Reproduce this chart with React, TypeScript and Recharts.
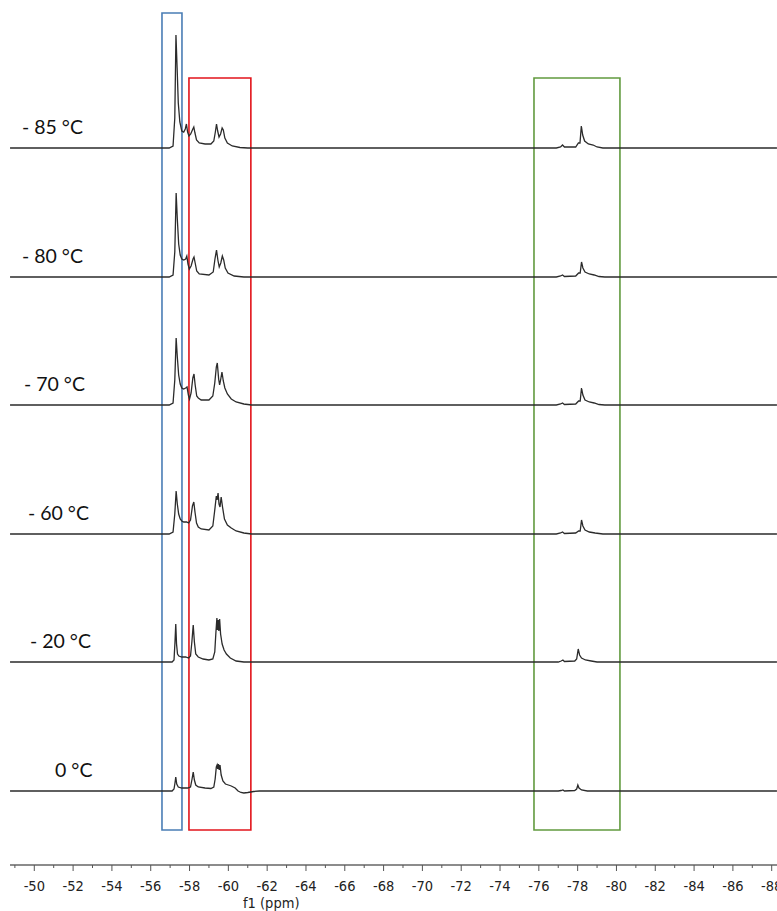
import { LineChart, Line, XAxis, YAxis, ReferenceArea } from "recharts";

// chemical shift (ppm) / intensity pairs
const SPEC_M85: [number, number][] = [
  [-48.75, 0], [-56.95, 0], [-57.15, 2], [-57.24, 30], [-57.3, 113], [-57.36, 80], [-57.42, 45],
  [-57.5, 26], [-57.6, 17], [-57.7, 16], [-57.78, 19], [-57.84, 24], [-57.9, 16], [-57.97, 12],
  [-58.06, 14], [-58.17, 19], [-58.22, 21], [-58.28, 15], [-58.36, 8], [-58.5, 5], [-58.8, 4],
  [-59.1, 4], [-59.25, 7], [-59.33, 16], [-59.39, 24], [-59.45, 17], [-59.52, 11], [-59.6, 14],
  [-59.68, 20], [-59.74, 18], [-59.82, 10], [-59.95, 5], [-60.2, 2], [-60.6, 0.5], [-61.0, 0],
  [-76.9, 0], [-77.12, 1], [-77.22, 3], [-77.32, 1], [-77.9, 1], [-78.04, 5], [-78.12, 5],
  [-78.19, 22], [-78.26, 13], [-78.36, 7], [-78.55, 4], [-78.8, 3], [-79.0, 1], [-79.3, 0],
  [-88.27, 0],
];

const SPEC_M80: [number, number][] = [
  [-48.75, 0], [-56.95, 0], [-57.15, 2], [-57.24, 25], [-57.31, 84], [-57.37, 58], [-57.44, 33],
  [-57.52, 22], [-57.6, 18], [-57.7, 17], [-57.8, 18], [-57.86, 21], [-57.92, 13], [-57.99, 8],
  [-58.08, 11], [-58.18, 18], [-58.23, 20], [-58.29, 14], [-58.37, 6], [-58.5, 3], [-59.0, 2],
  [-59.22, 5], [-59.31, 18], [-59.39, 27], [-59.46, 17], [-59.53, 10], [-59.61, 14], [-59.69, 21],
  [-59.76, 17], [-59.84, 9], [-59.98, 4], [-60.3, 1], [-60.8, 0],
  [-76.9, 0], [-77.12, 1], [-77.22, 2], [-77.32, 0.5], [-77.9, 1], [-78.05, 4], [-78.13, 4],
  [-78.2, 15], [-78.27, 9], [-78.38, 5], [-78.6, 3], [-78.85, 2], [-79.1, 0.5], [-79.4, 0],
  [-88.27, 0],
];

const SPEC_M70: [number, number][] = [
  [-48.75, 0], [-56.95, 0], [-57.15, 2], [-57.24, 25], [-57.31, 67], [-57.37, 48], [-57.44, 30],
  [-57.52, 21], [-57.6, 17], [-57.7, 16], [-57.8, 17], [-57.87, 18], [-57.94, 10], [-58.0, 6],
  [-58.08, 12], [-58.17, 27], [-58.23, 31], [-58.29, 20], [-58.37, 9], [-58.45, 7], [-58.6, 5],
  [-59.0, 5], [-59.2, 9], [-59.3, 22], [-59.38, 38], [-59.43, 42], [-59.5, 26], [-59.55, 20],
  [-59.61, 26], [-59.67, 33], [-59.74, 24], [-59.82, 17], [-59.95, 11], [-60.15, 6], [-60.4, 3],
  [-60.8, 1], [-61.2, 0],
  [-76.9, 0], [-77.12, 1], [-77.22, 2], [-77.32, 0.5], [-77.9, 1], [-78.05, 4], [-78.13, 4],
  [-78.2, 17], [-78.27, 10], [-78.38, 5], [-78.6, 3], [-78.85, 2], [-79.1, 0.5], [-79.4, 0],
  [-88.27, 0],
];

const SPEC_M60: [number, number][] = [
  [-48.75, 0], [-56.95, 0], [-57.15, 2], [-57.24, 20], [-57.31, 43], [-57.37, 30], [-57.44, 20],
  [-57.52, 15], [-57.6, 13], [-57.7, 12], [-57.85, 12], [-57.95, 11], [-58.05, 14], [-58.15, 28],
  [-58.22, 32], [-58.28, 22], [-58.36, 11], [-58.45, 7], [-58.6, 5], [-59.0, 4], [-59.2, 8],
  [-59.3, 24], [-59.38, 38], [-59.42, 34], [-59.47, 41], [-59.52, 30], [-59.57, 27], [-59.63, 37],
  [-59.7, 27], [-59.8, 15], [-59.95, 9], [-60.15, 6], [-60.4, 3], [-60.8, 1], [-61.2, 0],
  [-76.9, 0], [-77.12, 1], [-77.22, 2], [-77.32, 0.5], [-77.9, 1], [-78.05, 3], [-78.13, 3],
  [-78.2, 14], [-78.27, 8], [-78.38, 4], [-78.6, 2], [-78.9, 1], [-79.3, 0],
  [-88.27, 0],
];

const SPEC_M20: [number, number][] = [
  [-48.75, 0], [-57.1, 0], [-57.2, 2], [-57.25, 20], [-57.29, 38], [-57.33, 18], [-57.38, 8],
  [-57.45, 6], [-57.6, 5], [-57.8, 5], [-57.95, 4], [-58.05, 6], [-58.12, 20], [-58.19, 37],
  [-58.25, 20], [-58.32, 8], [-58.45, 5], [-58.7, 3], [-59.0, 2], [-59.2, 3], [-59.3, 10],
  [-59.36, 30], [-59.41, 44], [-59.44, 32], [-59.48, 42], [-59.51, 31], [-59.55, 43], [-59.6, 28],
  [-59.68, 18], [-59.78, 12], [-59.9, 8], [-60.1, 4], [-60.4, 1], [-60.8, 0],
  [-77.0, 0], [-77.15, 1], [-77.24, 2], [-77.32, 0.5], [-77.85, 1], [-77.95, 3], [-78.03, 13],
  [-78.1, 7], [-78.2, 4], [-78.4, 2], [-78.7, 1], [-79.0, 0],
  [-88.27, 0],
];

const SPEC_0: [number, number][] = [
  [-48.75, 0], [-57.1, 0], [-57.2, 2], [-57.25, 8], [-57.29, 14], [-57.34, 7], [-57.42, 4],
  [-57.6, 3], [-57.9, 3], [-58.05, 4], [-58.13, 12], [-58.19, 19], [-58.25, 11], [-58.32, 6],
  [-58.45, 4], [-58.8, 3], [-59.1, 2.5], [-59.25, 4], [-59.32, 12], [-59.38, 24], [-59.42, 26],
  [-59.45, 22], [-59.49, 27], [-59.53, 21], [-59.57, 26], [-59.63, 16], [-59.72, 10], [-59.85, 7],
  [-60.0, 6], [-60.15, 5], [-60.35, 3], [-60.5, 0], [-60.65, -1.5], [-60.8, -2], [-61.0, -1.5],
  [-61.3, -0.5], [-61.6, 0],
  [-77.0, 0], [-77.15, 0.5], [-77.24, 1], [-77.32, 0], [-77.85, 0.5], [-77.95, 2], [-78.01, 6],
  [-78.07, 3], [-78.2, 1], [-78.5, 0],
  [-88.27, 0],
];

const SPECTRA = [SPEC_M85, SPEC_M80, SPEC_M70, SPEC_M60, SPEC_M20, SPEC_0];
const TEMPS = ["- 85 °C", "- 80 °C", "- 70 °C", "- 60 °C", "- 20 °C", "0 °C"];

// x-axis ticks: every ppm, labelled every 2
const TICKS: number[] = [];
for (let t = -49; t >= -88; t--) TICKS.push(t);

// highlighted regions [from, to] in ppm
const REGIONS = [
  { from: -56.58, to: -57.61, color: "#4a7db5" },
  { from: -57.97, to: -61.16, color: "#e2151b" },
  { from: -75.75, to: -80.18, color: "#629a3f" },
];

// layout (pixels)
const W = 777;
const H = 911;
const PLOT_H = 865;
const BASELINES = [148, 277, 405, 534, 662, 791];
const REGION_TOP = [13, 78, 78];
const REGION_BOTTOM = 830;
const LABEL_LEFT = [22, 22, 24, 28, 30, 55];

const AXIS_FONT = "'DejaVu Sans Condensed', 'Liberation Sans Narrow', 'DejaVu Sans', sans-serif";

function PpmTick(props: any) {
  const { x, y, payload } = props;
  const v = payload.value;
  const major = v % 2 === 0;
  return (
    <g>
      <line x1={x} x2={x} y1={y} y2={y + (major ? 6 : 3)} stroke="#555" strokeWidth={1} />
      {major && (
        <text x={x} y={y + 26} textAnchor="middle" fontSize={14.5} fill="#222" fontFamily={AXIS_FONT}>
          {v}
        </text>
      )}
    </g>
  );
}

export default function App() {
  return (
    <div style={{ position: "absolute", left: 0, top: 0, width: W, height: H, background: "#fff" }}>
      <LineChart width={W} height={H} margin={{ top: 0, right: 0, bottom: 0, left: 10 }}>
        <XAxis
          dataKey="ppm"
          type="number"
          domain={[-88.273, -48.748]}
          reversed
          allowDataOverflow
          ticks={TICKS}
          interval={0}
          tick={<PpmTick />}
          tickLine={false}
          tickSize={0}
          tickMargin={0}
          height={H - PLOT_H}
          axisLine={{ stroke: "#666", strokeWidth: 1.5 }}
        />
        {/* frame axis: value = pixels above the x-axis line */}
        <YAxis yAxisId="frame" hide domain={[0, PLOT_H]} type="number" allowDataOverflow />
        {BASELINES.map((b, i) => (
          <YAxis key={i} yAxisId={`s${i}`} hide type="number" domain={[b - PLOT_H, b]} allowDataOverflow />
        ))}
        {SPECTRA.map((spec, i) => (
          <Line
            key={i}
            yAxisId={`s${i}`}
            data={spec.map(([ppm, v]) => ({ ppm, v }))}
            dataKey="v"
            type="linear"
            stroke="#2b2b2b"
            strokeWidth={1.3}
            dot={false}
            isAnimationActive={false}
          />
        ))}
        {REGIONS.map((r, i) => (
          <ReferenceArea
            key={i}
            yAxisId="frame"
            x1={r.from}
            x2={r.to}
            y1={PLOT_H - REGION_TOP[i]}
            y2={PLOT_H - REGION_BOTTOM}
            fill="none"
            fillOpacity={0}
            stroke={r.color}
            strokeWidth={1.6}
            ifOverflow="visible"
          />
        ))}
      </LineChart>
      {TEMPS.map((t, i) => (
        <div
          key={t}
          style={{
            position: "absolute",
            left: LABEL_LEFT[i],
            top: BASELINES[i] - 33,
            fontFamily: "Lato, 'Open Sans', sans-serif",
            fontSize: 19.5,
            color: "#111",
            whiteSpace: "pre",
            lineHeight: "24px",
          }}
        >
          {t}
        </div>
      ))}
      <div
        style={{
          position: "absolute",
          left: 243,
          top: 896,
          fontFamily: AXIS_FONT,
          fontSize: 14.5,
          color: "#222",
          lineHeight: "15px",
        }}
      >
        f1 (ppm)
      </div>
    </div>
  );
}
